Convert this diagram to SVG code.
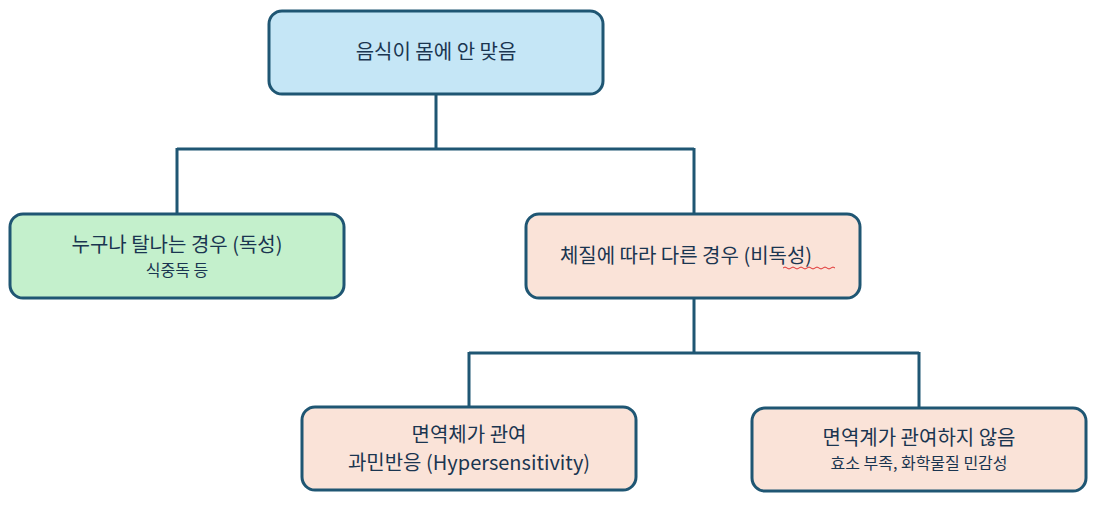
<svg xmlns="http://www.w3.org/2000/svg" width="1098" height="509" viewBox="0 0 1098 509">
<style>
.box{stroke:#1f5673;stroke-width:3}
.blue{fill:#c5e6f6}.green{fill:#c4f0cc}.peach{fill:#fae3d8}
text{font-family:"Noto Sans CJK KR","Noto Sans",sans-serif;fill:#1a3550;text-anchor:middle}
.l{font-size:20px}.s{font-size:16px}
.c{stroke:#1f5673;stroke-width:3;fill:none}
</style>
<rect width="1098" height="509" fill="#fff"/>
<g id="connectors">
<path class="c" d="M436 94V149M177 149H694M177 148V214M694 148V214"/>
<path class="c" d="M694 298V353M469 353H919M469 352V407M919 352V407"/>
</g>
<g id="n1"><rect class="box blue" x="269" y="11" width="334" height="83" rx="13"/><text class="l" x="436" y="59">음식이 몸에 안 맞음</text></g>
<g id="n2"><rect class="box green" x="10" y="214" width="334" height="84" rx="13"/><text class="l" x="177" y="252">누구나 탈나는 경우 (독성)</text><text class="s" x="177" y="276">식중독 등</text></g>
<g id="n3"><rect class="box peach" x="526" y="214" width="334" height="84" rx="13"/><text class="l" x="686" y="263">체질에 따라 다른 경우 (비독성)</text><path d="M783 268q2 -2 4 0t4 0t4 0t4 0t4 0t4 0t4 0t4 0t4 0t4 0t4 0t4 0t4 0" stroke="#e03030" stroke-width="1" fill="none"/></g>
<g id="n4"><rect class="box peach" x="302" y="407" width="334" height="83" rx="13"/><text class="l" x="469" y="442">면역체가 관여</text><text class="l" x="469" y="470">과민반응 (Hypersensitivity)</text></g>
<g id="n5"><rect class="box peach" x="752" y="408" width="334" height="83" rx="13"/><text class="l" x="919" y="445">면역계가 관여하지 않음</text><text class="s" x="919" y="469">효소 부족, 화학물질 민감성</text></g>
</svg>
